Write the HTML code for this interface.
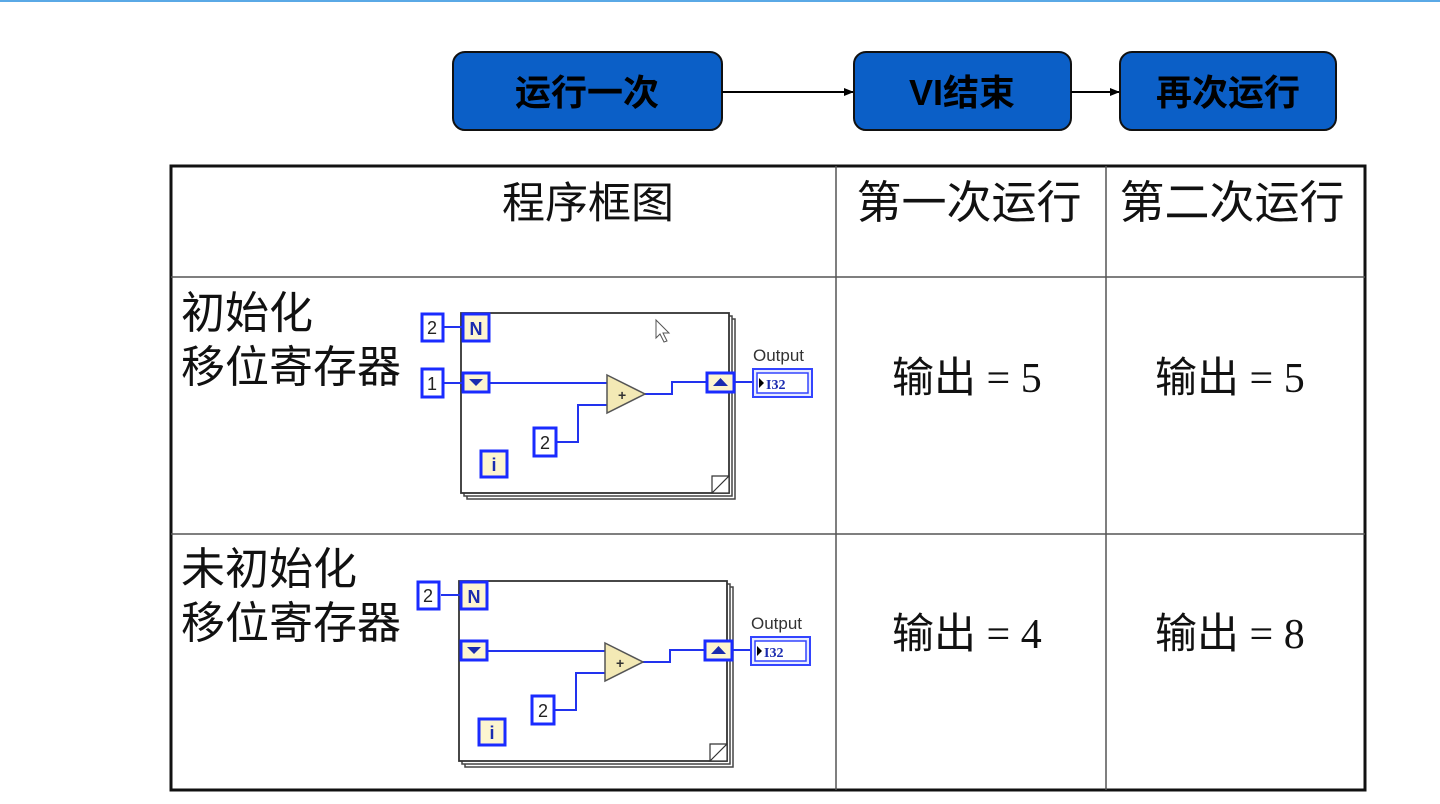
<!DOCTYPE html>
<html><head><meta charset="utf-8"><style>
html,body{margin:0;padding:0;background:#fff;width:1440px;height:804px;overflow:hidden}
svg{display:block}
.cj{font-family:"Liberation Sans","Noto Sans CJK SC",sans-serif}
</style></head><body>
<svg width="1440" height="804" xmlns="http://www.w3.org/2000/svg">
<defs>
<marker id="ah" markerWidth="10" markerHeight="10" refX="9" refY="5" orient="auto" markerUnits="userSpaceOnUse"><path d="M0,1 L10,5 L0,9 Z" fill="#000"/></marker>
<g id="dia">
  <rect x="467" y="319" width="268" height="180" fill="#fff" stroke="#444" stroke-width="1.5"/>
  <rect x="464" y="316" width="268" height="180" fill="#fff" stroke="#444" stroke-width="1.5"/>
  <rect x="461" y="313" width="268" height="180" fill="#fff" stroke="#333" stroke-width="1.8"/>
  <path d="M712,493 L729,476 L729,493 Z" fill="#fff" stroke="#333" stroke-width="1.2"/>
  <path d="M712,493 L712,476 L729,476" fill="none" stroke="#333" stroke-width="1.2"/>
  <path d="M443,327 H462" stroke="#2233ee" stroke-width="2" fill="none"/>
  <path d="M490,383 H607" stroke="#2233ee" stroke-width="2" fill="none"/>
  <path d="M557,442 H578 V405 H607" stroke="#2233ee" stroke-width="2" fill="none"/>
  <path d="M645,394 H672 V382 H707" stroke="#2233ee" stroke-width="2" fill="none"/>
  <path d="M735,382 H753" stroke="#2233ee" stroke-width="2" fill="none"/>
  <rect x="463" y="314" width="26" height="27" fill="#fdf5d0" stroke="#1a2bff" stroke-width="3"/>
  <text x="476" y="335" font-family="Liberation Sans,sans-serif" font-weight="bold" font-size="18" fill="#1a2bb0" text-anchor="middle">N</text>
  <rect x="463" y="373" width="26" height="19" fill="#fdf5d0" stroke="#1a2bff" stroke-width="3"/>
  <path d="M469,379 H483 L476,386 Z" fill="#1a2bb0"/>
  <path d="M607,375 L645,394 L607,413 Z" fill="#f3e9b5" stroke="#555" stroke-width="1.5"/>
  <text x="618" y="400" font-family="Liberation Sans,sans-serif" font-weight="bold" font-size="14" fill="#333">+</text>
  <rect x="534" y="428" width="22" height="28" fill="#fff" stroke="#1a2bff" stroke-width="3"/>
  <text x="545" y="449" font-family="Liberation Sans,sans-serif" font-size="18" fill="#222" text-anchor="middle">2</text>
  <rect x="481" y="451" width="26" height="26" fill="#fdf5d0" stroke="#1a2bff" stroke-width="3"/>
  <text x="494" y="471" font-family="Liberation Sans,sans-serif" font-weight="bold" font-size="18" fill="#1a2bb0" text-anchor="middle">i</text>
  <rect x="707" y="373" width="27" height="19" fill="#fdf5d0" stroke="#1a2bff" stroke-width="3"/>
  <path d="M713,386 H728 L720.5,378 Z" fill="#1a2bb0"/>
  <rect x="753" y="369" width="59" height="28" fill="#e8ecff" stroke="#3344ff" stroke-width="2"/>
  <rect x="757" y="373" width="51" height="20" fill="#fff" stroke="#3344ff" stroke-width="1.5"/>
  <path d="M759,378 L764,383 L759,388 Z" fill="#000"/>
  <text x="766" y="389" font-family="Liberation Serif,serif" font-weight="bold" font-size="14" fill="#1a2bb0">I32</text>
  <text x="753" y="361" font-family="Liberation Sans,sans-serif" font-size="17" fill="#333">Output</text>
</g>
</defs>
<line x1="0" y1="1" x2="1440" y2="1" stroke="#5aa9e6" stroke-width="2"/>
<rect x="453" y="52" width="269" height="78" rx="12" fill="#0b5fc7" stroke="#111" stroke-width="2"/>
<rect x="854" y="52" width="217" height="78" rx="12" fill="#0b5fc7" stroke="#111" stroke-width="2"/>
<rect x="1120" y="52" width="216" height="78" rx="12" fill="#0b5fc7" stroke="#111" stroke-width="2"/>
<text class="cj" x="587" y="105" font-size="36" font-weight="bold" text-anchor="middle" fill="#000">运行一次</text>
<text class="cj" x="962" y="105" font-size="36" font-weight="bold" text-anchor="middle" fill="#000">VI结束</text>
<text class="cj" x="1228" y="105" font-size="36" font-weight="bold" text-anchor="middle" fill="#000">再次运行</text>
<line x1="722" y1="92" x2="853" y2="92" stroke="#000" stroke-width="2" marker-end="url(#ah)"/>
<line x1="1071" y1="92" x2="1119" y2="92" stroke="#000" stroke-width="2" marker-end="url(#ah)"/>
<rect x="171" y="166" width="1194" height="624" fill="none" stroke="#111" stroke-width="3"/>
<line x1="171" y1="277" x2="1365" y2="277" stroke="#555" stroke-width="1.5"/>
<line x1="171" y1="534" x2="1365" y2="534" stroke="#555" stroke-width="1.5"/>
<line x1="836" y1="166" x2="836" y2="790" stroke="#555" stroke-width="1.5"/>
<line x1="1106" y1="166" x2="1106" y2="790" stroke="#555" stroke-width="1.5"/>
<text class="cj" x="588" y="218" font-size="43" text-anchor="middle" fill="#111">程序框图</text>
<text class="cj" x="969" y="218" font-size="45" text-anchor="middle" fill="#111">第一次运行</text>
<text class="cj" x="1232" y="218" font-size="45" text-anchor="middle" fill="#111">第二次运行</text>
<text class="cj" x="181" y="328" font-size="44" fill="#111">初始化</text>
<text class="cj" x="181" y="382" font-size="44" fill="#111">移位寄存器</text>
<text class="cj" x="181" y="584" font-size="44" fill="#111">未初始化</text>
<text class="cj" x="181" y="638" font-size="44" fill="#111">移位寄存器</text>
<g font-size="42" fill="#111">
<text x="892" y="392"><tspan class="cj">输出</tspan><tspan font-family="Liberation Serif,serif"> = 5</tspan></text>
<text x="1155" y="392"><tspan class="cj">输出</tspan><tspan font-family="Liberation Serif,serif"> = 5</tspan></text>
<text x="892" y="648"><tspan class="cj">输出</tspan><tspan font-family="Liberation Serif,serif"> = 4</tspan></text>
<text x="1155" y="648"><tspan class="cj">输出</tspan><tspan font-family="Liberation Serif,serif"> = 8</tspan></text>
</g>
<use href="#dia"/>
<path d="M443,383 H462" stroke="#2233ee" stroke-width="2"/>
<rect x="422" y="369" width="21" height="28" fill="#fff" stroke="#1a2bff" stroke-width="3"/>
<text x="432" y="390" font-family="Liberation Sans,sans-serif" font-size="18" fill="#222" text-anchor="middle">1</text>
<rect x="422" y="314" width="21" height="27" fill="#fff" stroke="#1a2bff" stroke-width="3"/>
<text x="432" y="334" font-family="Liberation Sans,sans-serif" font-size="18" fill="#222" text-anchor="middle">2</text>
<path d="M656,320 v18 l4,-4 l4,8 l3,-1 l-4,-8 h6 Z" fill="#fff" stroke="#555" stroke-width="1"/>
<g transform="translate(-2,268)">
<use href="#dia"/>
<rect x="420" y="314" width="21" height="27" fill="#fff" stroke="#1a2bff" stroke-width="3"/>
<text x="430" y="334" font-family="Liberation Sans,sans-serif" font-size="18" fill="#222" text-anchor="middle">2</text>
</g>
</svg>
</body></html>
